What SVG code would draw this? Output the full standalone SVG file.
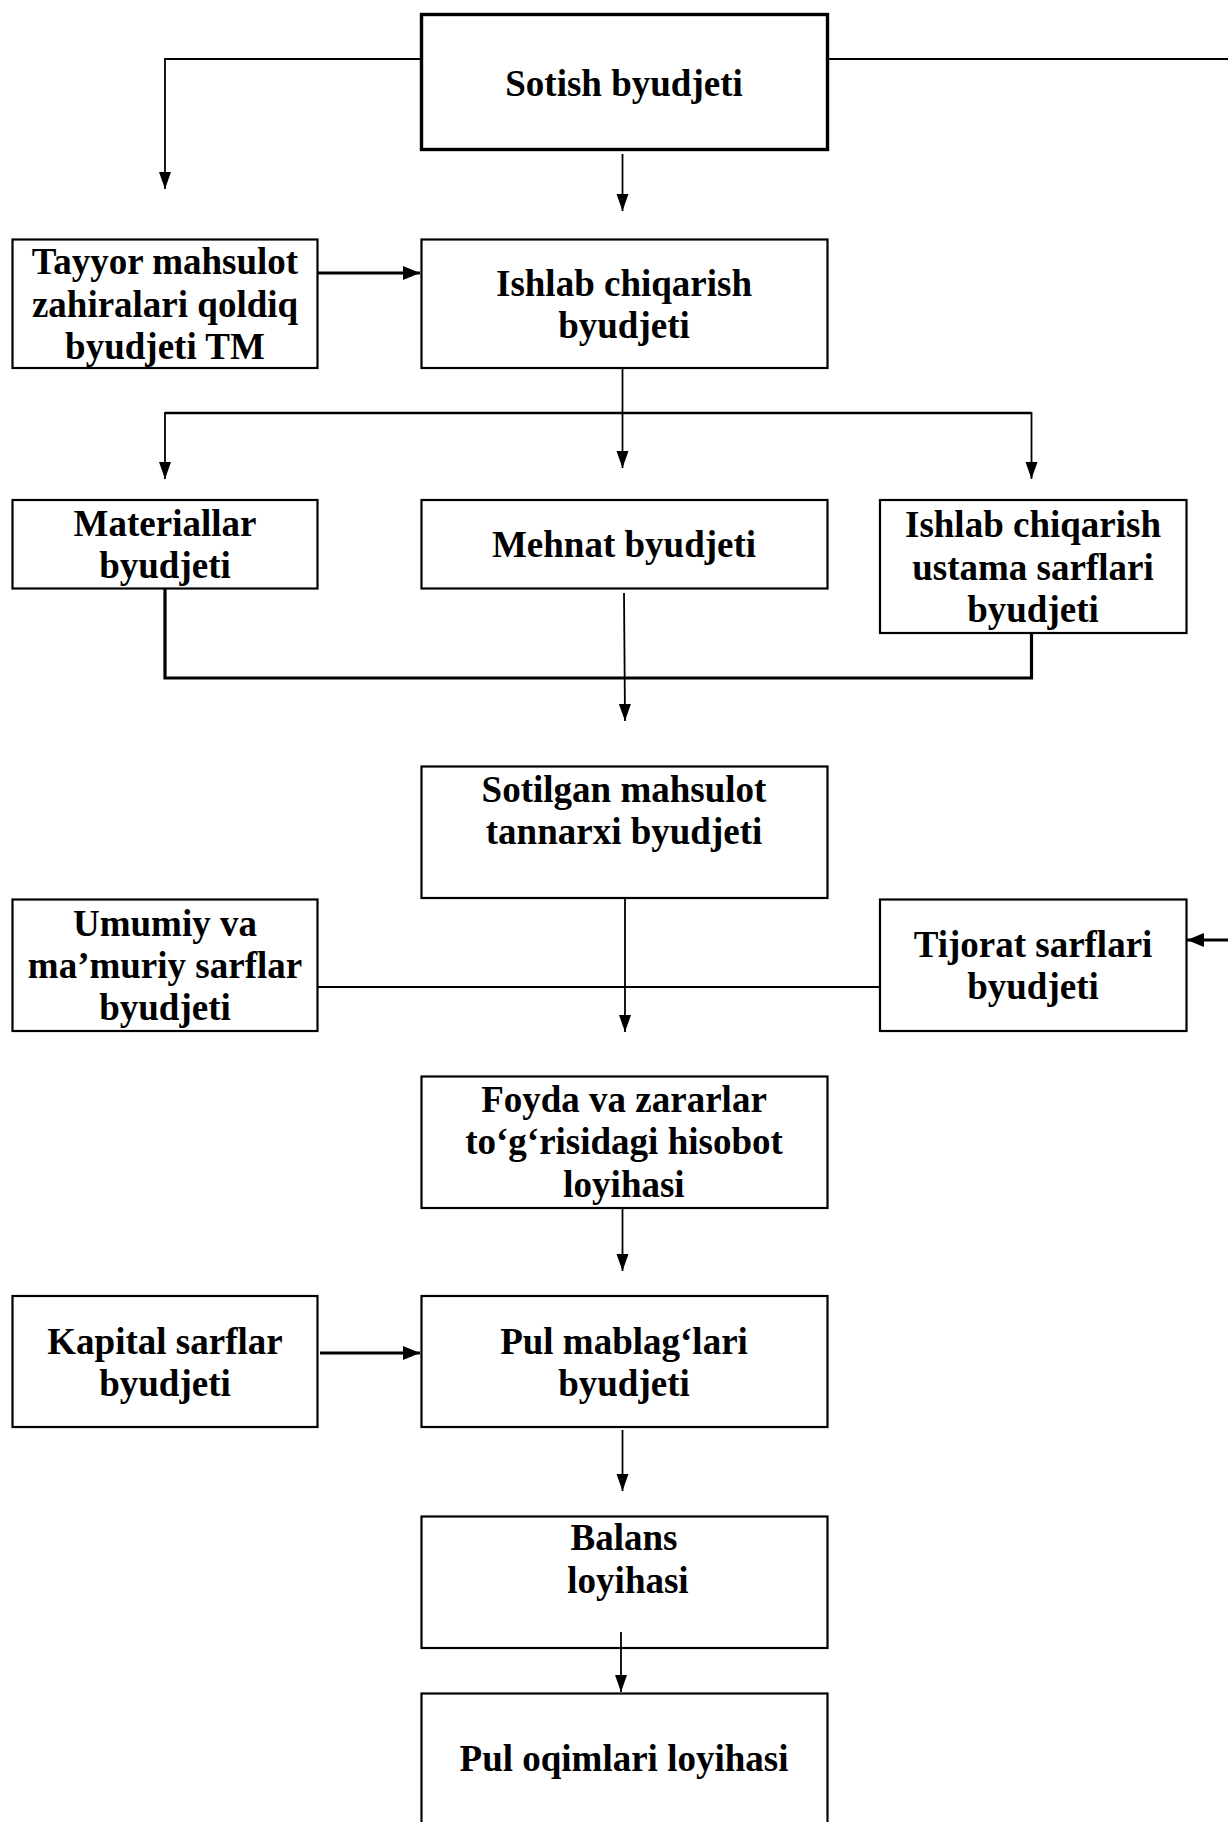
<svg xmlns="http://www.w3.org/2000/svg" width="1228" height="1822" viewBox="0 0 1228 1822">
<style>
.box{fill:#fff;stroke:#000;stroke-width:2.2}
.thick{stroke-width:3.4}
.t{font-family:"Liberation Serif","Times New Roman",serif;font-weight:bold;font-size:37px;fill:#000;text-anchor:middle}
.c{fill:none;stroke:#000;stroke-width:1.8}
.cb{fill:none;stroke:#000;stroke-width:3.2}
</style>
<defs>
<marker id="ah" markerUnits="userSpaceOnUse" markerWidth="18" markerHeight="13" refX="17" refY="6" orient="auto">
<path d="M0,0 L17,6 L0,12 z" fill="#000"/>
</marker>
<marker id="ahb" markerUnits="userSpaceOnUse" markerWidth="18" markerHeight="15" refX="17" refY="7" orient="auto">
<path d="M0,0 L17,7 L0,14 z" fill="#000"/>
</marker>
</defs>
<rect width="1228" height="1822" fill="#fff"/>
<g id="connectors">
<polyline class="c" points="420.5,59 165,59 165,189" marker-end="url(#ah)"/>
<line class="c" x1="828.5" y1="59" x2="1228" y2="59"/>
<line class="c" x1="622.5" y1="154" x2="622.5" y2="211" marker-end="url(#ah)"/>
<line class="cb" x1="318" y1="273" x2="420" y2="273" marker-end="url(#ahb)"/>
<line class="c" x1="622.5" y1="368" x2="622.5" y2="468" marker-end="url(#ah)"/>
<line class="cb" x1="165" y1="413" x2="1031.5" y2="413" style="stroke-width:2.4"/>
<line class="c" x1="165" y1="412" x2="165" y2="479" marker-end="url(#ah)"/>
<line class="c" x1="1031.5" y1="412" x2="1031.5" y2="479" marker-end="url(#ah)"/>
<polyline class="cb" points="165,589 165,678 1031.5,678 1031.5,634"/>
<line class="c" x1="624" y1="593" x2="625" y2="721" marker-end="url(#ah)"/>
<line class="c" x1="625" y1="898" x2="625" y2="1032" marker-end="url(#ah)"/>
<line class="c" x1="318" y1="987" x2="880" y2="987"/>
<line class="cb" x1="1228" y1="940" x2="1187" y2="940" marker-end="url(#ahb)"/>
<line class="c" x1="622.5" y1="1209" x2="622.5" y2="1271" marker-end="url(#ah)"/>
<line class="cb" x1="320" y1="1353" x2="420" y2="1353" marker-end="url(#ahb)"/>
<line class="c" x1="622.5" y1="1430" x2="622.5" y2="1491" marker-end="url(#ah)"/>
</g>
<g id="n-sotish"><rect class="box thick" x="421.5" y="14.5" width="406" height="135"/><text class="t" x="624" y="96">Sotish byudjeti</text></g>
<g id="n-tayyor"><rect class="box" x="12.5" y="239.5" width="305" height="128.5"/><text class="t" x="165" y="274">Tayyor mahsulot</text><text class="t" x="165" y="317">zahiralari qoldiq</text><text class="t" x="165" y="359">byudjeti TM</text></g>
<g id="n-ishlab"><rect class="box" x="421.5" y="239.5" width="406" height="128.5"/><text class="t" x="624" y="296">Ishlab chiqarish</text><text class="t" x="624" y="338">byudjeti</text></g>
<g id="n-materiallar"><rect class="box" x="12.5" y="500" width="305" height="88.5"/><text class="t" x="165" y="536">Materiallar</text><text class="t" x="165" y="578">byudjeti</text></g>
<g id="n-mehnat"><rect class="box" x="421.5" y="500" width="406" height="88.5"/><text class="t" x="624" y="557">Mehnat byudjeti</text></g>
<g id="n-ustama"><rect class="box" x="880" y="500" width="306.5" height="133"/><text class="t" x="1033" y="537">Ishlab chiqarish</text><text class="t" x="1033" y="580">ustama sarflari</text><text class="t" x="1033" y="622">byudjeti</text></g>
<g id="n-sotilgan"><rect class="box" x="421.5" y="766.5" width="406" height="131.5"/><text class="t" x="624" y="802">Sotilgan mahsulot</text><text class="t" x="624" y="844">tannarxi byudjeti</text></g>
<g id="n-umumiy"><rect class="box" x="12.5" y="899.5" width="305" height="131.5"/><text class="t" x="165" y="936">Umumiy va</text><text class="t" x="165" y="978">ma’muriy sarflar</text><text class="t" x="165" y="1020">byudjeti</text></g>
<g id="n-tijorat"><rect class="box" x="880" y="899.5" width="306.5" height="131.5"/><text class="t" x="1033" y="957">Tijorat sarflari</text><text class="t" x="1033" y="999">byudjeti</text></g>
<g id="n-foyda"><rect class="box" x="421.5" y="1076.5" width="406" height="131.5"/><text class="t" x="624" y="1112">Foyda va zararlar</text><text class="t" x="624" y="1154">to‘g‘risidagi hisobot</text><text class="t" x="624" y="1197">loyihasi</text></g>
<g id="n-kapital"><rect class="box" x="12.5" y="1296" width="305" height="131"/><text class="t" x="165" y="1354">Kapital sarflar</text><text class="t" x="165" y="1396">byudjeti</text></g>
<g id="n-pulmablag"><rect class="box" x="421.5" y="1296" width="406" height="131"/><text class="t" x="624" y="1354">Pul mablag‘lari</text><text class="t" x="624" y="1396">byudjeti</text></g>
<g id="n-balans"><rect class="box" x="421.5" y="1516.5" width="406" height="131.5"/><text class="t" x="624" y="1550">Balans</text><text class="t" x="628" y="1593">loyihasi</text></g>
<g id="n-puloqim"><rect class="box" x="421.5" y="1693.5" width="406" height="140"/><text class="t" x="624" y="1771">Pul oqimlari loyihasi</text></g>
<g id="connectors-over"><line class="c" x1="621" y1="1632" x2="621" y2="1692" marker-end="url(#ah)"/></g>
</svg>
